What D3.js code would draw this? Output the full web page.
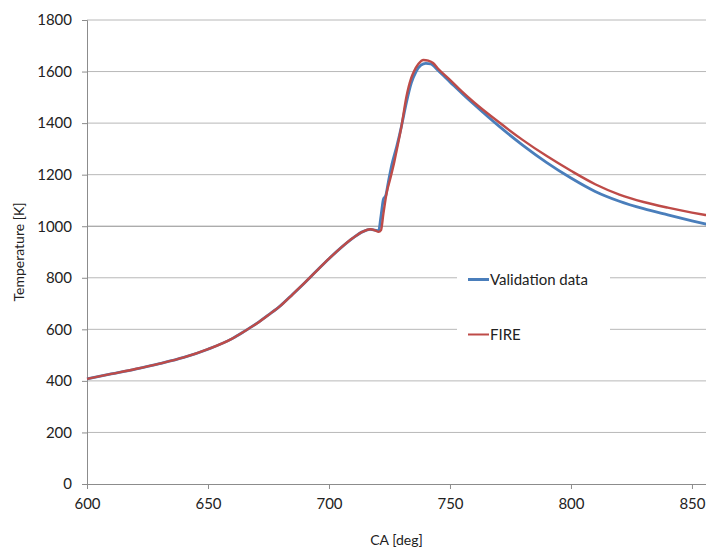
<!DOCTYPE html>
<html>
<head>
<meta charset="utf-8">
<script src="https://cdn.jsdelivr.net/npm/d3@7"></script>
<style>
  body { margin: 0; background: #fff; }
  text { font-family: Lato, "Open Sans", sans-serif; fill: #222; }
</style>
</head>
<body>
<svg width="706" height="552"></svg>
<script>
// values
var valCA = [600, 610, 620, 630, 640, 650, 660, 665, 670, 675, 680, 685, 690, 695, 700, 705, 710, 714, 717, 719, 720.5,
  721.5, 722.5, 723.5, 724.5, 726, 728, 730, 732, 734, 736, 738, 740, 742, 745, 750, 755, 760, 770, 780, 790, 800,
  810, 820, 830, 840, 850, 856];
var valT = [408, 427, 446, 467, 491, 523, 564, 592, 622, 656, 692, 736, 781, 828, 874, 917, 955, 979, 988, 985, 982,
  1040, 1105, 1120, 1170, 1240, 1310, 1390, 1480, 1555, 1600, 1625, 1632, 1630, 1605, 1560, 1515, 1472, 1390, 1315, 1247, 1187,
  1135, 1097, 1068, 1044, 1021, 1008];

var fireCA = [600, 610, 620, 630, 640, 650, 660, 665, 670, 675, 680, 685, 690, 695, 700, 705, 710, 714, 717, 719, 720.5,
  721.5, 722.5, 723.8, 725.2, 727, 728, 730, 732, 734, 735.1, 737, 739, 741, 743, 745, 750, 755, 760, 770, 780, 790, 800,
  810, 820, 830, 840, 850, 856];
var fireT = [408, 427, 446, 467, 491, 523, 564, 592, 622, 656, 692, 736, 781, 828, 874, 917, 955, 979, 988, 984, 978,
  985, 1050, 1128, 1180, 1250, 1296, 1390, 1502, 1575, 1600, 1630, 1645, 1642, 1633, 1612, 1568, 1522, 1480, 1405, 1335, 1272, 1215,
  1163, 1123, 1094, 1072, 1053, 1043];

var xTicks = [600, 650, 700, 750, 800, 850];
var yTicks = [0, 200, 400, 600, 800, 1000, 1200, 1400, 1600, 1800];

var series = [
  { name: "Validation data", ca: valCA, t: valT, color: "#4a7ebb", width: 2.8, legendWidth: 3 },
  { name: "FIRE", ca: fireCA, t: fireT, color: "#be4b48", width: 2.4, legendWidth: 2 }
];

var svg = d3.select("svg");
var plotLeft = 87, plotRight = 706, plotTop = 20, plotBottom = 484;

var x = d3.scaleLinear().domain([600, 855.8]).range([plotLeft, plotRight]);
var y = d3.scaleLinear().domain([0, 1800]).range([plotBottom, plotTop]);

// gridlines
svg.append("g")
  .selectAll("line")
  .data(yTicks.slice(1))
  .enter().append("line")
  .attr("x1", plotLeft).attr("x2", plotRight)
  .attr("y1", function (d) { return y(d); })
  .attr("y2", function (d) { return y(d); })
  .attr("stroke", function (d) { return d == 1000 ? "#8c8c8c" : "#b8b8b8"; })
  .attr("stroke-width", 1);

// axes
var xAxis = svg.append("g")
  .attr("transform", "translate(0," + plotBottom + ")")
  .call(d3.axisBottom(x).tickValues(xTicks).tickFormat(d3.format("d")).tickSize(5).tickPadding(9));
var yAxis = svg.append("g")
  .attr("transform", "translate(" + plotLeft + ",0)")
  .call(d3.axisLeft(y).tickValues(yTicks).tickFormat(d3.format("d")).tickSize(5).tickPadding(10));

[xAxis, yAxis].forEach(function (a) {
  a.select(".domain").attr("stroke", "#8c8c8c");
  a.selectAll(".tick line").attr("stroke", "#8c8c8c");
  a.selectAll(".tick text").style("font-family", "Lato, sans-serif").style("font-size", "15px").attr("fill", "#222");
});

// curves
var line = d3.line().curve(d3.curveMonotoneX);
series.forEach(function (s) {
  var pts = s.ca.map(function (c, i) { return [x(c), y(s.t[i])]; });
  svg.append("path")
    .attr("d", line(pts))
    .attr("fill", "none")
    .attr("stroke", s.color)
    .attr("stroke-width", s.width)
    .attr("stroke-linejoin", "round");
});

// legend
var legend = svg.append("g");
legend.append("rect")
  .attr("x", 457).attr("y", 262).attr("width", 153).attr("height", 90)
  .attr("fill", "#fff");
series.forEach(function (s, i) {
  var ly = 279.5 + i * 55;
  legend.append("line")
    .attr("x1", 468).attr("x2", 489)
    .attr("y1", ly).attr("y2", ly)
    .attr("stroke", s.color)
    .attr("stroke-width", s.legendWidth);
  legend.append("text")
    .attr("x", 490).attr("y", ly + 5.5)
    .style("font-size", "15px")
    .text(s.name);
});

// axis titles
svg.append("text")
  .attr("x", (plotLeft + plotRight) / 2).attr("y", 545)
  .attr("text-anchor", "middle")
  .style("font-size", "14px")
  .text("CA [deg]");
svg.append("text")
  .attr("transform", "translate(24," + (plotTop + plotBottom) / 2 + ") rotate(-90)")
  .attr("text-anchor", "middle")
  .style("font-size", "14px")
  .text("Temperature [K]");
</script>
</body>
</html>
